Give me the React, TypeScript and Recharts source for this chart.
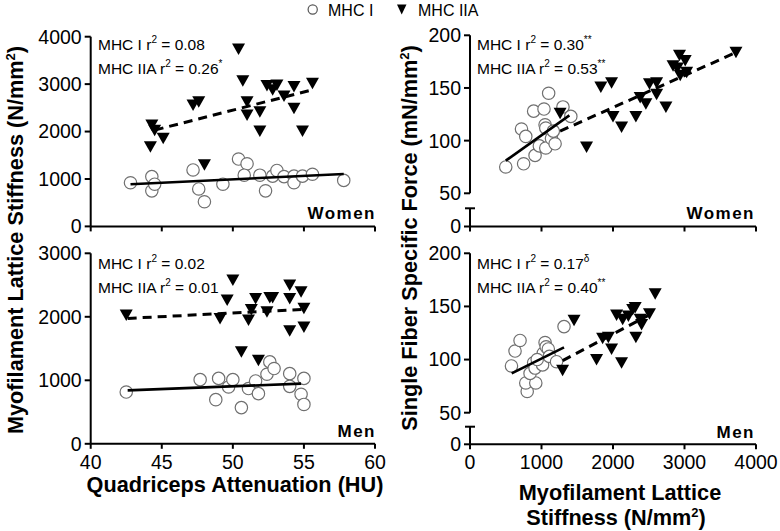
import React from 'react';
import { ScatterChart, Scatter, XAxis, YAxis } from 'recharts';

type Pt = { x: number; y: number };
const pts = (rows: number[][]): Pt[] => rows.map(([x, y]) => ({ x, y }));

// tick values
const attenTicks = [40, 45, 50, 55, 60];
const stiffTicksX = [0, 1000, 2000, 3000, 4000];
const womenStiffTicksY = [0, 1000, 2000, 3000, 4000];
const menStiffTicksY = [0, 1000, 2000, 3000];
const forceTicks = [50, 100, 150, 200];

// Women: quadriceps attenuation (HU) vs lattice stiffness (N/mm2)
const womenAttenI = pts([
  [42.8, 920], [44.3, 1050], [44.3, 750], [44.5, 890], [47.2, 1190], [47.6, 790],
  [48.0, 520], [49.3, 890], [50.4, 1420], [51.0, 1320], [50.8, 1080], [51.9, 1080],
  [52.3, 750], [52.8, 1060], [53.1, 1180], [53.6, 1050], [54.3, 1060], [54.3, 920],
  [54.9, 1060], [55.6, 1100], [57.8, 970],
]);
const womenAttenIIA = pts([
  [44.3, 2140], [44.5, 2030], [44.2, 1680], [45.1, 1860], [47.2, 2560], [47.6, 2630],
  [48.0, 1300], [50.4, 3740], [50.7, 3070], [51.0, 2630], [51.0, 2350], [51.9, 2420],
  [51.9, 2010], [52.4, 2970], [52.8, 2880], [53.1, 2980], [53.6, 2750], [54.3, 2950],
  [54.3, 2490], [54.9, 2010], [55.6, 3020],
]);
const womenAttenFitI = pts([[42.8, 890], [57.8, 1105]]);
const womenAttenFitIIA = pts([[44.5, 2030], [55.6, 2880]]);

// Men: quadriceps attenuation vs lattice stiffness
const menAttenI = pts([
  [42.5, 815], [47.7, 1010], [48.8, 695], [49.0, 1030], [49.7, 895], [50.0, 1010],
  [50.6, 570], [51.1, 870], [51.6, 990], [51.8, 790], [52.4, 1095], [52.6, 1290],
  [52.9, 1185], [54.0, 1105], [54.0, 905], [54.8, 780], [55.0, 1030], [55.0, 620],
]);
const menAttenIIA = pts([
  [42.5, 2030], [49.1, 1975], [49.6, 2265], [50.0, 2580], [50.6, 1450], [51.1, 1950],
  [51.3, 2115], [51.6, 2290], [51.8, 1315], [52.4, 2080], [52.6, 2305], [52.8, 2305],
  [54.0, 2500], [54.0, 2290], [54.0, 1780], [54.8, 2395], [55.0, 2135], [55.0, 1840],
]);
const menAttenFitI = pts([[42.6, 842], [54.8, 948]]);
const menAttenFitIIA = pts([[42.6, 1975], [55.0, 2117]]);

// Women: lattice stiffness vs specific force (mN/mm2)
const womenStiffI = pts([
  [500, 75], [750, 78], [720, 111], [780, 104], [890, 128], [910, 86], [970, 95],
  [1035, 130], [1050, 115], [1060, 112], [1060, 93], [1100, 145], [1140, 102],
  [1190, 97], [1165, 109], [1300, 132], [1410, 123],
]);
const womenStiffIIA = pts([
  [1260, 126], [1630, 94], [1830, 151], [1980, 155], [2000, 123], [2120, 113],
  [2320, 123], [2380, 141], [2460, 135], [2510, 154], [2610, 155], [2610, 144],
  [2740, 132], [2840, 171], [2900, 169], [2930, 181], [3010, 176], [2940, 162],
  [3030, 165], [3720, 184],
]);
const womenStiffFitI = pts([[500, 81], [1390, 124]]);
const womenStiffFitIIA = pts([[1260, 109], [3730, 184]]);

// Men: lattice stiffness vs specific force
const menStiffI = pts([
  [580, 94], [630, 108], [700, 118], [800, 70], [780, 78], [920, 78], [840, 87],
  [890, 97], [910, 92], [1015, 95], [1025, 106], [1050, 116], [1065, 112],
  [1095, 110], [1110, 103], [1210, 98], [1315, 131], [940, 100],
]);
const menStiffIIA = pts([
  [1295, 90], [1455, 137], [1770, 100], [1855, 120], [1935, 121], [1980, 110],
  [2050, 142], [2120, 97], [2135, 138], [2215, 141], [2275, 147], [2310, 149],
  [2320, 121], [2380, 138], [2400, 133], [2510, 143], [2590, 162],
]);
const menStiffFitI = pts([[583, 87], [1315, 111.5]]);
const menStiffFitIIA = pts([[1296, 99], [2564, 144]]);

// origin point for the short axis piece below each break (drawn without a mark)
const stubAnchor = pts([[0, 0]]);

const W = 780;
const H = 531;
const YW = 60;
const FONT = '"Liberation Sans", Arial, Helvetica, sans-serif';
const TICK_FS = 19.5;

const OpenCircle = (p: any) => (
  <circle cx={p.cx} cy={p.cy} r={6.2} fill="#fff" stroke="#707070" strokeWidth={1.2} />
);
const DownTri = (p: any) => (
  <path d={`M${p.cx - 6.5},${p.cy - 5.5}L${p.cx + 6.5},${p.cy - 5.5}L${p.cx},${p.cy + 6}Z`} fill="#000" />
);
const NoDot = () => <g />;
const NoLabel = () => <g />;

const axisLine = { stroke: '#000', strokeWidth: 2 };
const tickStyle = { fill: '#000', fontSize: TICK_FS, fontFamily: FONT };

// tick for the short segment under an axis break: cap on top, "0" at the bottom
const StubTick = (p: any) => {
  const ax = p.x + 9;
  if (p.payload.value === 0) {
    return (
      <g>
        <line x1={ax - 6} x2={ax} y1={p.y} y2={p.y} stroke="#000" strokeWidth={2} />
        <text x={p.x} y={p.y} dy="0.35em" textAnchor="end" fill="#000" fontSize={TICK_FS} fontFamily={FONT}>0</text>
      </g>
    );
  }
  return <line x1={ax - 5} x2={ax + 5} y1={p.y} y2={p.y} stroke="#000" strokeWidth={2} />;
};

type Rect = { x1: number; y1: number; x2: number; y2: number };

function Panel(props: {
  rect: Rect;
  xDomain: number[];
  xTicks: number[];
  xMode: 'none' | 'ticks' | 'labels';
  yDomain: number[];
  yTicks: number[];
  stub?: boolean;
  series?: { I: Pt[]; IIA: Pt[]; fitI: Pt[]; fitIIA: Pt[] };
}) {
  const { rect, xMode, series } = props;
  const xH = xMode === 'none' ? 0 : xMode === 'ticks' ? 8 : 30;
  const margin = { left: rect.x1 - YW, top: rect.y1, right: W - rect.x2, bottom: H - rect.y2 - xH };
  return (
    <div style={{ position: 'absolute', left: 0, top: 0 }}>
      <ScatterChart width={W} height={H} margin={margin}>
        <XAxis
          type="number"
          dataKey="x"
          domain={props.xDomain}
          ticks={props.xTicks}
          hide={xMode === 'none'}
          height={xH || 1}
          axisLine={axisLine}
          tickLine={axisLine}
          tickSize={5}
          tickMargin={6}
          tick={xMode === 'labels' ? tickStyle : NoLabel}
          interval={0}
          allowDataOverflow
        />
        <YAxis
          type="number"
          dataKey="y"
          domain={props.yDomain}
          ticks={props.yTicks}
          width={YW}
          axisLine={axisLine}
          tickLine={props.stub ? false : axisLine}
          tickSize={6}
          tickMargin={3}
          tick={props.stub ? StubTick : tickStyle}
          interval={0}
          allowDataOverflow
        />
        {series && <Scatter data={series.I} shape={OpenCircle} isAnimationActive={false} />}
        {series && <Scatter data={series.IIA} shape={DownTri} isAnimationActive={false} />}
        {series && (
          <Scatter data={series.fitI} shape={NoDot} line={{ stroke: '#000', strokeWidth: 2.6 }} isAnimationActive={false} />
        )}
        {series && (
          <Scatter
            data={series.fitIIA}
            shape={NoDot}
            line={{ stroke: '#000', strokeWidth: 3, strokeDasharray: '9 6' }}
            isAnimationActive={false}
          />
        )}
        {!series && <Scatter data={stubAnchor} shape={NoDot} isAnimationActive={false} />}
      </ScatterChart>
    </div>
  );
}

function Stat({ x, y, a, b, sa, sb }: { x: number; y: number; a: string; b: string; sa: string; sb: string }) {
  return (
    <g fontSize={15.5} fontFamily={FONT} fill="#000">
      <text x={x} y={y}>
        MHC I r<tspan dy={-7} fontSize={10}>2</tspan><tspan dy={7}> = {a}</tspan>
        {sa && <tspan dy={-7} fontSize={10}>{sa}</tspan>}
      </text>
      <text x={x} y={y + 24}>
        MHC IIA r<tspan dy={-7} fontSize={10}>2</tspan><tspan dy={7}> = {b}</tspan>
        {sb && <tspan dy={-7} fontSize={10}>{sb}</tspan>}
      </text>
    </g>
  );
}

function Overlay() {
  const sexStyle = { fontSize: 17, fontWeight: 700, fontFamily: FONT, letterSpacing: 1.5 } as const;
  return (
    <svg width={W} height={H} style={{ position: 'absolute', left: 0, top: 0 }}>
      {/* legend */}
      <circle cx={312.7} cy={9.5} r={4.6} fill="#fff" stroke="#555" strokeWidth={1.2} />
      <text x={328} y={15.5} fontSize={16} fontFamily={FONT}>MHC I</text>
      <path d="M397,4.5L406.5,4.5L401.7,14.5Z" fill="#000" />
      <text x={418} y={15.5} fontSize={16} fontFamily={FONT}>MHC IIA</text>

      <Stat x={98} y={49.5} a="0.08" b="0.26" sa="" sb="*" />
      <Stat x={477} y={49.5} a="0.30" b="0.53" sa="**" sb="**" />
      <Stat x={98} y={268.5} a="0.02" b="0.01" sa="" sb="" />
      <Stat x={477} y={268.5} a="0.17" b="0.40" sa="δ" sb="**" />

      <text x={376} y={219} textAnchor="end" {...sexStyle}>Women</text>
      <text x={755} y={218.5} textAnchor="end" {...sexStyle}>Women</text>
      <text x={376} y={437} textAnchor="end" {...sexStyle}>Men</text>
      <text x={755} y={438} textAnchor="end" {...sexStyle}>Men</text>

      <g fontSize={21.7} fontWeight={700} fontFamily={FONT} textAnchor="middle">
        <text transform="translate(23,240) rotate(-90)">
          Myofilament Lattice Stiffness (N/mm<tspan dy={-8} fontSize={13}>2</tspan><tspan dy={8}>)</tspan>
        </text>
        <text transform="translate(416.5,238) rotate(-90)">
          Single Fiber Specific Force (mN/mm<tspan dy={-8} fontSize={13}>2</tspan><tspan dy={8}>)</tspan>
        </text>
        <text x={235} y={492}>Quadriceps Attenuation (HU)</text>
        <text x={620} y={500}>Myofilament Lattice</text>
        <text x={616} y={525}>
          Stiffness (N/mm<tspan dy={-8} fontSize={13}>2</tspan><tspan dy={8}>)</tspan>
        </text>
      </g>
    </svg>
  );
}

export default function App() {
  return (
    <div style={{ position: 'absolute', left: 0, top: 0, width: W, height: H, background: '#fff' }}>
      {/* women, attenuation */}
      <Panel
        rect={{ x1: 90.7, y1: 36.7, x2: 375, y2: 226.4 }}
        xDomain={[40, 60]} xTicks={attenTicks} xMode="ticks"
        yDomain={[0, 4000]} yTicks={womenStiffTicksY}
        series={{ I: womenAttenI, IIA: womenAttenIIA, fitI: womenAttenFitI, fitIIA: womenAttenFitIIA }}
      />
      {/* men, attenuation */}
      <Panel
        rect={{ x1: 90.7, y1: 253.3, x2: 375, y2: 443.8 }}
        xDomain={[40, 60]} xTicks={attenTicks} xMode="labels"
        yDomain={[0, 3000]} yTicks={menStiffTicksY}
        series={{ I: menAttenI, IIA: menAttenIIA, fitI: menAttenFitI, fitIIA: menAttenFitIIA }}
      />
      {/* women, stiffness vs force (broken y axis) */}
      <Panel
        rect={{ x1: 470, y1: 35.3, x2: 756, y2: 193.3 }}
        xDomain={[0, 4000]} xTicks={stiffTicksX} xMode="none"
        yDomain={[50, 200]} yTicks={forceTicks}
        series={{ I: womenStiffI, IIA: womenStiffIIA, fitI: womenStiffFitI, fitIIA: womenStiffFitIIA }}
      />
      <Panel
        rect={{ x1: 470, y1: 208.3, x2: 756, y2: 226.5 }}
        xDomain={[0, 4000]} xTicks={stiffTicksX} xMode="ticks"
        yDomain={[0, 17.3]} yTicks={[0, 17.3]} stub
      />
      {/* men, stiffness vs force (broken y axis) */}
      <Panel
        rect={{ x1: 470, y1: 253.3, x2: 756, y2: 412.7 }}
        xDomain={[0, 4000]} xTicks={stiffTicksX} xMode="none"
        yDomain={[50, 200]} yTicks={forceTicks}
        series={{ I: menStiffI, IIA: menStiffIIA, fitI: menStiffFitI, fitIIA: menStiffFitIIA }}
      />
      <Panel
        rect={{ x1: 470, y1: 426.7, x2: 756, y2: 444.3 }}
        xDomain={[0, 4000]} xTicks={stiffTicksX} xMode="labels"
        yDomain={[0, 16.6]} yTicks={[0, 16.6]} stub
      />
      <Overlay />
    </div>
  );
}
